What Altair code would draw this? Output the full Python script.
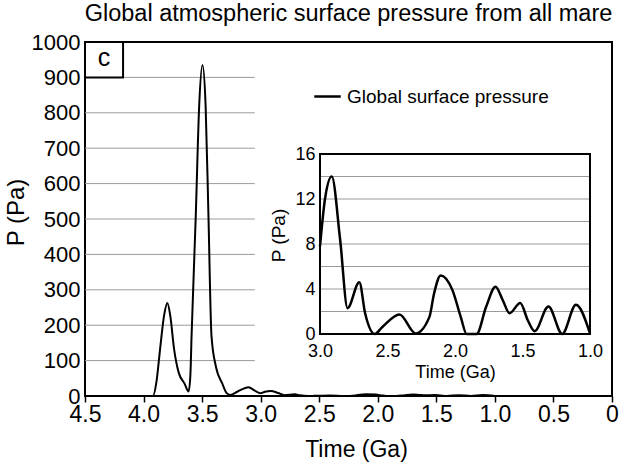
import altair as alt
import pandas as pd

# ---------------- data ----------------
chart_title = "Global atmospheric surface pressure from all mare"
series_name = "Global surface pressure"
panel_letter = "c"

# main curve, early part (time in Ga, pressure in Pa)
early_t = [4.5, 3.92, 3.89, 3.859, 3.825, 3.797, 3.772, 3.739, 3.70, 3.65, 3.615,
           3.60, 3.59, 3.554, 3.525, 3.497, 3.47, 3.446, 3.42, 3.38, 3.33, 3.29,
           3.26, 3.20, 3.104, 3.05]
early_p = [0, 0, 40, 132, 227, 263, 227, 132, 66, 35, 13,
           60, 170, 511, 820, 935, 820, 511, 170, 80, 37, 8,
           3, 12, 25, 15]

# late part (shown in the inset)
inset_t = [3.0, 2.963, 2.913, 2.851, 2.796, 2.709, 2.665, 2.595, 2.54, 2.411,
           2.292, 2.19, 2.155, 2.106, 2.019, 1.957, 1.914, 1.84, 1.77, 1.70,
           1.646, 1.596, 1.517, 1.46, 1.41, 1.308, 1.206, 1.104, 1.0]
inset_p = [7.8, 12.0, 14.0, 8.4, 2.3, 4.6, 1.8, 0.0, 0.6, 1.73,
           0.05, 1.5, 3.6, 5.2, 3.9, 1.5, 0.0, 0.0, 2.4, 4.2,
           3.0, 1.85, 2.75, 1.2, 0.25, 2.45, 0.0, 2.6, 0.05]

x_ticks = [4.5, 4.0, 3.5, 3.0, 2.5, 2.0, 1.5, 1.0, 0.5, 0.0]
y_ticks = [0, 100, 200, 300, 400, 500, 600, 700, 800, 900, 1000]
main_grid = [100, 200, 300, 400, 500, 600, 700, 800, 900]
main_grid_span = [4.5, 3.05]
letter_box_t = [4.5, 4.175]
letter_box_p = [900, 1000]

inset_x_ticks = [3.0, 2.5, 2.0, 1.5, 1.0]
inset_y_ticks = [0, 4, 8, 12, 16]
inset_grid = [2, 4, 6, 8, 10, 12, 14]

# ---------------- layout / style ----------------
FONT = "Liberation Sans"
W, H = 527, 354
PAD = {"left": 85, "top": 42, "right": 9, "bottom": 67}
INSET_X_RANGE = [505, 235]   # pixel range inside plot area (t=1.0 -> 3.0)
INSET_Y_RANGE = [292, 112]   # pixel range inside plot area (P=0 -> 16)
GRID_COLOR = "#9a9a9a"

main_df = pd.DataFrame({"t": early_t + inset_t, "p": early_p + inset_p,
                        "series": series_name})
inset_df = pd.DataFrame({"t": inset_t, "p": inset_p})
main_grid_df = pd.DataFrame({"p": main_grid, "t": main_grid_span[0],
                             "t2": main_grid_span[1]})
box_df = pd.DataFrame({"t": [letter_box_t[0]], "t2": [letter_box_t[1]],
                       "p": [letter_box_p[0]], "p2": [letter_box_p[1]]})
letter_df = pd.DataFrame({"t": [sum(letter_box_t) / 2], "p": [sum(letter_box_p) / 2],
                          "label": [panel_letter]})
inset_grid_df = pd.DataFrame({"p": inset_grid, "t": inset_x_ticks[0],
                              "t2": inset_x_ticks[-1]})
inset_frame_df = pd.DataFrame({"t": [inset_x_ticks[0]], "t2": [inset_x_ticks[-1]],
                               "p": [inset_y_ticks[0]], "p2": [inset_y_ticks[-1]]})

main_x_scale = alt.Scale(domain=[0, 4.5], reverse=True, nice=False, zero=False)
main_y_scale = alt.Scale(domain=[0, 1000], nice=False)
inset_x_scale = alt.Scale(domain=[1.0, 3.0], range=INSET_X_RANGE, nice=False, zero=False)
inset_y_scale = alt.Scale(domain=[0, 16], range=INSET_Y_RANGE, nice=False)

main_x_axis = alt.Axis(values=x_ticks, title="Time (Ga)",
                       labelExpr="datum.value == 0 ? '0' : format(datum.value, '.1f')",
                       labelFont=FONT, labelFontSize=23, labelColor="black",
                       labelPadding=1, tickSize=6, tickColor="black", tickWidth=1.5,
                       domain=False, grid=False, titleFont=FONT, titleFontSize=23,
                       titleFontWeight="normal", titleColor="black", titlePadding=12,
                       titleX=271,
                       labelFlush=False, labelOverlap=False)
main_y_axis = alt.Axis(values=y_ticks, title="P (Pa)", format="d",
                       labelFont=FONT, labelFontSize=22, labelColor="black",
                       labelPadding=5, ticks=False, domain=False, grid=False,
                       titleFont=FONT, titleFontSize=24, titleFontWeight="normal",
                       titleColor="black", titlePadding=3, titleY=170,
                       labelFlush=False, labelOverlap=False)
inset_x_axis = alt.Axis(values=inset_x_ticks, title="Time (Ga)", format=".1f",
                        orient="bottom", offset=-(H - INSET_Y_RANGE[0]),
                        labelFont=FONT, labelFontSize=18, labelColor="black",
                        labelPadding=8, ticks=False, domain=False, grid=False,
                        titleFont=FONT, titleFontSize=18, titleFontWeight="normal",
                        titleColor="black", titlePadding=3,
                        labelFlush=False, labelOverlap=False)
inset_y_axis = alt.Axis(values=inset_y_ticks, title="P (Pa)", format="d",
                        orient="left", offset=-INSET_X_RANGE[1],
                        labelFont=FONT, labelFontSize=18, labelColor="black",
                        labelPadding=5, ticks=False, domain=False, grid=False,
                        titleFont=FONT, titleFontSize=19, titleFontWeight="normal",
                        titleColor="black", titlePadding=6, titleY=193,
                        labelFlush=False, labelOverlap=False)


def mx(field="t"):
    return alt.X(f"{field}:Q", scale=main_x_scale, axis=main_x_axis)


def my(field="p"):
    return alt.Y(f"{field}:Q", scale=main_y_scale, axis=main_y_axis)


def ix(field="t"):
    return alt.X(f"{field}:Q", scale=inset_x_scale, axis=inset_x_axis)


def iy(field="p"):
    return alt.Y(f"{field}:Q", scale=inset_y_scale, axis=inset_y_axis)


# ---------------- main panel ----------------
grid_main = alt.Chart(main_grid_df).mark_rule(color=GRID_COLOR, strokeWidth=1).encode(
    x=mx(), x2="t2:Q", y=my())

line_main = alt.Chart(main_df).mark_line(interpolate="monotone", strokeWidth=2).encode(
    x=mx(), y=my(),
    order=alt.Order("t:Q", sort="descending"),
    color=alt.Color("series:N", scale=alt.Scale(range=["black"]),
                    legend=alt.Legend(orient="none", legendX=228, legendY=40,
                                      title=None, symbolType="stroke",
                                      symbolSize=700, symbolStrokeWidth=2.5,
                                      symbolStrokeColor="black",
                                      labelFont=FONT, labelFontSize=19,
                                      labelColor="black", labelOffset=5,
                                      labelLimit=400, padding=0)))

box = alt.Chart(box_df).mark_rect(fill="white", stroke="black", strokeWidth=2).encode(
    x=mx(), x2="t2:Q", y=my(), y2="p2:Q")

letter = alt.Chart(letter_df).mark_text(font=FONT, fontSize=25, color="black",
                                        baseline="middle", align="center", dy=-2).encode(
    x=mx(), y=my(), text="label:N")

main_layer = alt.layer(grid_main, line_main, box, letter)

# ---------------- inset ----------------
inset_bg = alt.Chart(inset_frame_df).mark_rect(fill="white").encode(
    x=ix(), x2="t2:Q", y=iy(), y2="p2:Q")
inset_grid_rules = alt.Chart(inset_grid_df).mark_rule(color=GRID_COLOR, strokeWidth=1).encode(
    x=ix(), x2="t2:Q", y=iy())
inset_line = alt.Chart(inset_df).mark_line(interpolate="monotone", strokeWidth=2.5,
                                           color="black").encode(
    x=ix(), y=iy(), order=alt.Order("t:Q", sort="descending"))
inset_frame = alt.Chart(inset_frame_df).mark_rect(filled=False, stroke="black",
                                                  strokeWidth=2).encode(
    x=ix(), x2="t2:Q", y=iy(), y2="p2:Q")

inset_layer = alt.layer(inset_bg, inset_grid_rules, inset_line, inset_frame)

chart = alt.layer(main_layer, inset_layer).resolve_scale(
    x="independent", y="independent"
).properties(
    width=W, height=H,
    autosize=alt.AutoSizeParams(type="none"),
    padding=PAD,
    background="white",
    title=alt.Title(chart_title, font=FONT, fontSize=23.5, fontWeight="normal",
                    color="black", offset=6, anchor="middle"),
).configure_view(stroke="black", strokeWidth=2)

chart.save("out.html", embed_options={"renderer": "svg", "actions": False})
